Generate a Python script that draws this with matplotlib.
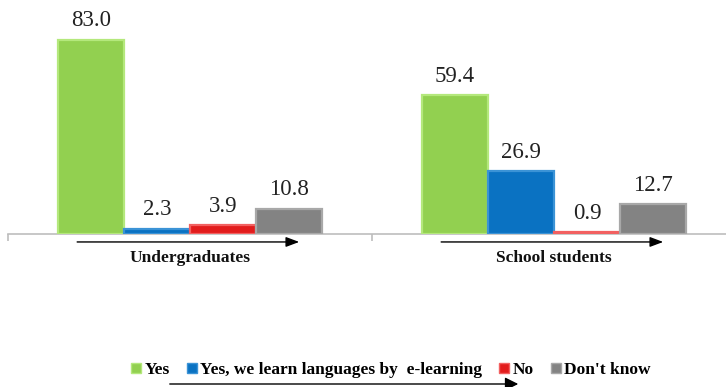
import matplotlib
matplotlib.use("Agg")
import matplotlib.pyplot as plt
from matplotlib.patches import Patch, FancyArrowPatch
import numpy as np

plt.rcParams['font.family'] = ['Liberation Serif', 'DejaVu Serif']

# Survey answers (%) by respondent group
groups = ["Undergraduates", "School students"]
series = ["Yes", "Yes, we learn languages by  e-learning", "No", "Don't know"]
yes = [83.0, 59.4]
yes_elearning = [2.3, 26.9]
no = [3.9, 0.9]
dont_know = [10.8, 12.7]
values = [yes, yes_elearning, no, dont_know]

face = ["#92D050", "#0A72C2", "#E21C1C", "#838383"]
edge = ["#B4E87C", "#3B93D6", "#F26060", "#A8A8A8"]

W, H = 726, 387
fig = plt.figure(figsize=(W / 100, H / 100), dpi=100)

# axes: baseline at y=234 px from top, category pitch of 364 px starting at x=8
ax = fig.add_axes([8 / W, (H - 234) / H, 728 / W, 234 / H])
ax.set_xlim(-0.5, 1.5)
ax.set_ylim(0, 100)

x = np.arange(len(groups))
w = 0.1813
for k, (vals, fc, ec) in enumerate(zip(values, face, edge)):
    pos = x + (k - 1.5) * w
    bars = ax.bar(pos, vals, width=w, color=fc, edgecolor=ec, linewidth=1.6,
                  zorder=3)
    for b, v in zip(bars, vals):
        ax.annotate(f"{v:.1f}", xy=(b.get_x() + b.get_width() / 2, v),
                    xytext=(0, 6), textcoords="offset points",
                    ha="center", va="bottom", fontsize=16.5, color="#222222")

# only the bottom axis line with category separators
for s in ["top", "right", "left"]:
    ax.spines[s].set_visible(False)
ax.spines["bottom"].set_color("#BDBDBD")
ax.spines["bottom"].set_linewidth(1.2)
ax.set_yticks([])
ax.set_xticks([-0.5, 0.5, 1.5])
ax.set_xticklabels([])
ax.tick_params(axis="x", direction="out", length=5, width=1.2, color="#BDBDBD")

# group labels with arrows beneath the bars
trans = ax.get_xaxis_transform()
for i, name in enumerate(groups):
    ax.annotate("", xy=(i + 0.30, -0.034), xytext=(i - 0.31, -0.034),
                xycoords=trans, textcoords=trans,
                arrowprops=dict(arrowstyle="-|>,head_length=0.8,head_width=0.3",
                                color="black", lw=1.0, shrinkA=0, shrinkB=0),
                annotation_clip=False)
    ax.text(i, -0.12, name, transform=trans, ha="center", va="baseline",
            fontsize=12.5, fontweight="bold", color="#111111")

handles = [Patch(facecolor=fc, edgecolor=ec, linewidth=1.0) for fc, ec in zip(face, edge)]
fig.legend(handles, series, loc="center", bbox_to_anchor=(391 / W, 1 - 370 / H),
           ncol=4, frameon=False, prop=dict(weight="bold", size=12.5),
           handlelength=0.55, handleheight=0.55, handletextpad=0.2,
           columnspacing=1.0, borderaxespad=0)

# arrow beneath the legend
fig.add_artist(FancyArrowPatch(
    (167 / W, 1 - 384 / H), (521 / W, 1 - 384 / H), transform=fig.transFigure,
    arrowstyle="-|>,head_length=8,head_width=4", color="black", lw=1.0,
    mutation_scale=1))

fig.savefig("out.png", dpi=100)
